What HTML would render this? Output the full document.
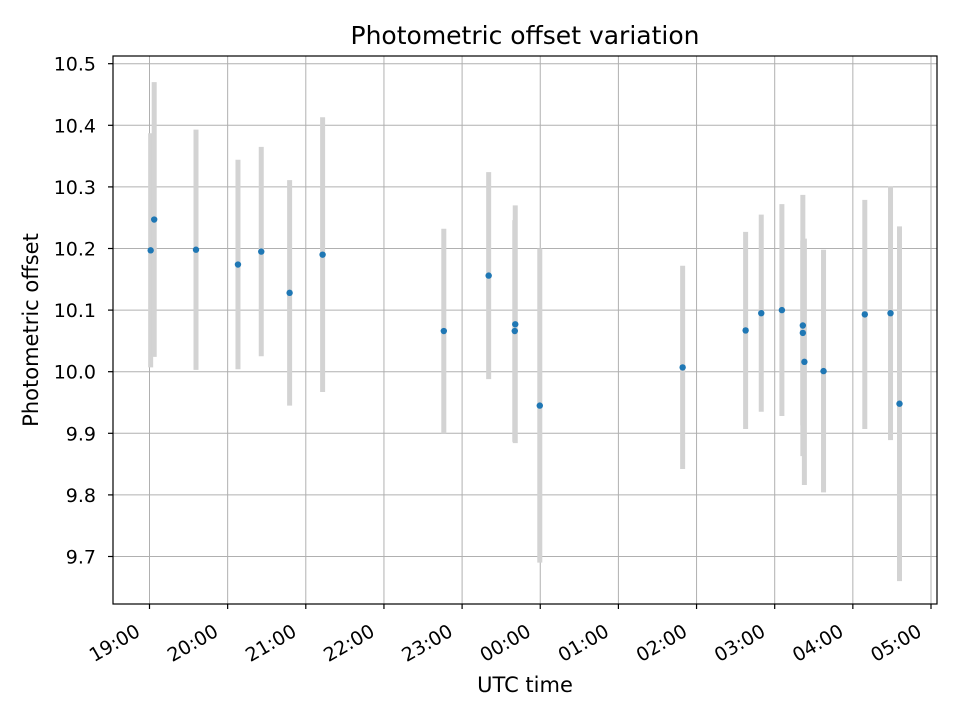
<!DOCTYPE html>
<html><head><meta charset="utf-8"><style>
body{margin:0;background:#fff;font-family:"Liberation Sans","DejaVu Sans",sans-serif}
</style></head><body>
<svg id="chart" width="960" height="720" xmlns="http://www.w3.org/2000/svg" font-family="DejaVu Sans, Liberation Sans, sans-serif">
<rect width="960" height="720" fill="#fff"/>
<g id="grid"></g><g id="bars"></g><g id="pts"></g><g id="axes"></g>
</svg>
<script>
// hours after 19:00 UTC
const hours=[0.015,0.06,0.595,1.132,1.43,1.793,2.215,3.766,4.34,4.68,4.674,4.994,6.822,7.628,7.828,8.092,8.36,8.36,8.38,8.625,9.153,9.482,9.597];
const offsets=[10.197,10.247,10.198,10.174,10.195,10.128,10.19,10.066,10.156,10.077,10.066,9.945,10.007,10.067,10.095,10.10,10.075,10.063,10.016,10.001,10.093,10.095,9.948];
const errors=[0.19,0.223,0.195,0.17,0.17,0.183,0.223,0.166,0.168,0.193,0.18,0.255,0.165,0.16,0.16,0.172,0.212,0.15,0.2,0.197,0.186,0.206,0.288];
const yTicks=[9.7,9.8,9.9,10.0,10.1,10.2,10.3,10.4,10.5];
const xTickLabels=["19:00","20:00","21:00","22:00","23:00","00:00","01:00","02:00","03:00","04:00","05:00"];
const NS="http://www.w3.org/2000/svg";
const L=113,R=937,T=56,B=604;
const xs=h=>149.5+h*78.15;
const ys=v=>63.7+(10.5-v)*616;
function mk(p,tag,a){const e=document.createElementNS(NS,tag);for(const k in a)e.setAttribute(k,a[k]);document.getElementById(p).appendChild(e);return e;}
yTicks.forEach((v,i)=>{const y=ys(v);
 const g=mk('grid','line',{x1:L,x2:R,y1:y,y2:y,stroke:'#b0b0b0','stroke-width':1});
 
 
 mk('axes','line',{x1:L-5,x2:L,y1:y,y2:y,stroke:'#000','stroke-width':1.2});
 const t=mk('axes','text',{x:L-17,y:y+7,'text-anchor':'end','font-size':'19'});
 t.textContent=v.toFixed(1);
 
 
});
xTickLabels.forEach((s,i)=>{const x=xs(i);
 const g=mk('grid','line',{x1:x,x2:x,y1:T,y2:B,stroke:'#b0b0b0','stroke-width':1});
 
 
 mk('axes','line',{x1:x,x2:x,y1:B,y2:B+5,stroke:'#000','stroke-width':1.2});
 const ax=x-8, ay=B+31;
 const t=mk('axes','text',{x:ax,y:ay,'text-anchor':'end','font-size':'19',transform:`rotate(-30 ${ax} ${ay})`});
 t.textContent=s;
 
 
});
hours.forEach((h,i)=>{const x=xs(h);
 const b=mk('bars','line',{x1:x,x2:x,y1:ys(offsets[i]+errors[i]),y2:ys(offsets[i]-errors[i]),stroke:'#d3d3d3','stroke-width':5});
 
 
 const c=mk('pts','circle',{cx:x,cy:ys(offsets[i]),r:3.2,fill:'#1f77b4'});
 
 
});
const fr=mk('axes','rect',{x:L,y:T,width:R-L,height:B-T,fill:'none',stroke:'#000','stroke-width':1.2});


const ti=mk('axes','text',{x:525,y:44,'text-anchor':'middle','font-size':'25'});
ti.textContent='Photometric offset variation';


const xl=mk('axes','text',{x:525,y:692,'text-anchor':'middle','font-size':'21'});
xl.textContent='UTC time';


const yl=mk('axes','text',{x:38,y:330,'text-anchor':'middle','font-size':'21',transform:'rotate(-90 38 330)'});
yl.textContent='Photometric offset';


</script>
</body></html>
